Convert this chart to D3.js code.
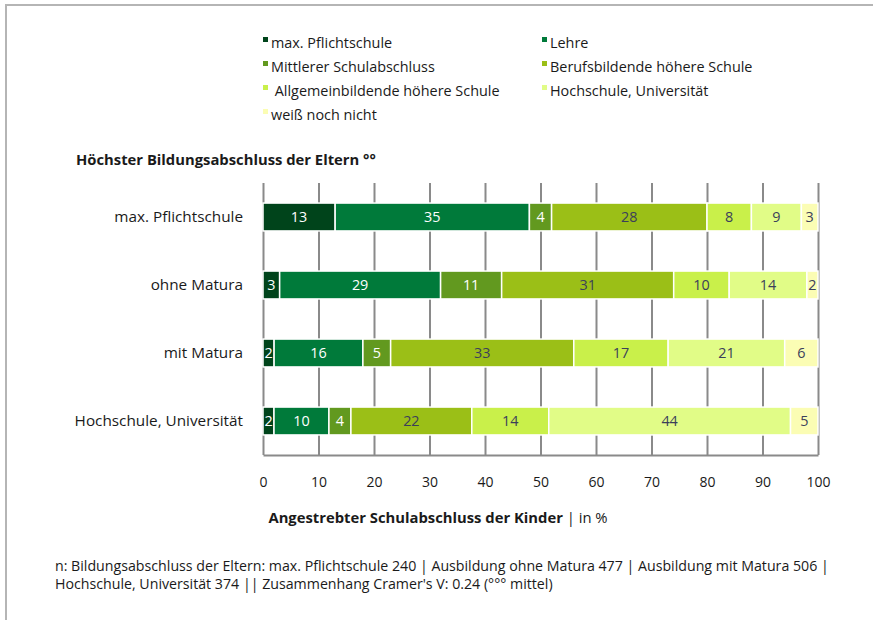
<!DOCTYPE html>
<html>
<head>
<meta charset="utf-8">
<script src="https://cdn.jsdelivr.net/npm/d3@7"></script>
<style>
  body { margin: 0; background: #fff; }
  svg text { font-family: 'Open Sans', 'Noto Sans', sans-serif; fill: #1a1a1a; }
</style>
</head>
<body>
<div id="app"></div>
<script>
const parents = ['max. Pflichtschule', 'ohne Matura', 'mit Matura', 'Hochschule, Universität'];
const goals = ['max. Pflichtschule', 'Lehre', 'Mittlerer Schulabschluss', 'Berufsbildende höhere Schule',
  ' Allgemeinbildende höhere Schule', 'Hochschule, Universität', 'weiß noch nicht'];
const colors = ['#00441b', '#007a3a', '#62991f', '#9bbf17', '#c9f04a', '#e1fc87', '#fbfdb4'];
const labelColors = ['#fff', '#fff', '#fff', '#3b3f5a', '#3b3f5a', '#3b3f5a', '#3b3f5a'];

// angestrebter Abschluss der Kinder in % je Elterngruppe
const pflicht = [13, 35, 4, 28, 8, 9, 3];
const ohneMatura = [3, 29, 11, 31, 10, 14, 2];
const mitMatura = [2, 16, 5, 33, 17, 21, 6];
const hochschule = [2, 10, 4, 22, 14, 44, 5];

const xTicks = [0, 10, 20, 30, 40, 50, 60, 70, 80, 90, 100];

const rows = [pflicht, ohneMatura, mitMatura, hochschule].map((vals, i) => {
  const r = { parent: parents[i] };
  goals.forEach((g, j) => r[g] = vals[j]);
  return r;
});

const svg = d3.select('#app').append('svg')
  .attr('width', 873)
  .attr('height', 620);

// frame
svg.append('path')
  .attr('d', 'M6,620V5H873')
  .attr('fill', 'none')
  .attr('stroke', '#b5b5b5')
  .attr('stroke-width', 2);

const x = d3.scaleLinear().domain([0, 100]).range([263, 818]);
const y = d3.scaleBand().domain(parents).range([183, 455]).paddingInner(0.59).paddingOuter(0.295);

// legend
const legend = svg.append('g');
goals.forEach((g, i) => {
  const lx = i % 2 === 0 ? 263 : 542;
  const ly = 43 + Math.floor(i / 2) * 24;
  legend.append('rect')
    .attr('x', lx).attr('y', ly - 6)
    .attr('width', 5).attr('height', 5)
    .attr('fill', colors[i]);
  legend.append('text')
    .attr('x', lx + 8).attr('y', ly + 5)
    .style('font-size', '14.4px')
    .style('white-space', 'pre')
    .attr('xml:space', 'preserve')
    .text(g);
});

svg.append('text')
  .attr('x', 76).attr('y', 165)
  .style('font-size', '14.8px')
  .style('font-weight', 'bold')
  .text('Höchster Bildungsabschluss der Eltern °°');

// grid + x axis
const gx = svg.append('g')
  .attr('transform', 'translate(0,455)')
  .call(d3.axisBottom(x).tickValues(xTicks).tickSizeInner(-(455 - 183)).tickSizeOuter(0).tickPadding(22));
gx.selectAll('line, path').attr('stroke', '#8a8a8a').attr('stroke-width', 2);
gx.selectAll('text').style('font-size', '14px').attr('fill', '#1a1a1a').attr('font-family', null);

const gy = svg.append('g')
  .attr('transform', 'translate(263,0)')
  .call(d3.axisLeft(y).tickSize(0).tickPadding(20));
gy.select('.domain').remove();
gy.selectAll('text').style('font-size', '15.3px').attr('fill', '#1a1a1a').attr('font-family', null);

// bars
const stack = d3.stack().keys(goals).offset(d3.stackOffsetExpand);
const series = stack(rows);

const layers = svg.append('g').selectAll('g')
  .data(series)
  .join('g')
  .attr('fill', (d, i) => colors[i]);

layers.selectAll('rect')
  .data(d => d)
  .join('rect')
  .attr('x', d => x(d[0] * 100))
  .attr('y', d => y(d.data.parent))
  .attr('width', d => x(d[1] * 100) - x(d[0] * 100))
  .attr('height', y.bandwidth())
  .attr('stroke', '#fff')
  .attr('stroke-width', 1.5);

layers.each(function(s, i) {
  d3.select(this).selectAll('text')
    .data(s)
    .join('text')
    .attr('x', d => x((d[0] + d[1]) / 2 * 100))
    .attr('y', d => y(d.data.parent) + y.bandwidth() / 2 + 5)
    .attr('text-anchor', 'middle')
    .style('font-size', '14.4px')
    .style('fill', labelColors[i])
    .text(d => d.data[s.key]);
});

// axis title
const at = svg.append('text')
  .attr('x', 438).attr('y', 523)
  .attr('text-anchor', 'middle')
  .style('font-size', '14.8px');
at.append('tspan').style('font-weight', 'bold').style('fill', '#1a1a1a').text('Angestrebter Schulabschluss der Kinder');
at.append('tspan').style('fill', '#1a1a1a').text(' | in %');

// footnote
const foot = ['n: Bildungsabschluss der Eltern: max. Pflichtschule 240 | Ausbildung ohne Matura 477 | Ausbildung mit Matura 506 |',
  'Hochschule, Universität 374 || Zusammenhang Cramer\'s V: 0.24 (°°° mittel)'];
svg.append('g').selectAll('text')
  .data(foot)
  .join('text')
  .attr('x', 55)
  .attr('y', (d, i) => 571 + i * 18)
  .style('font-size', '14.2px')
  .text(d => d);
</script>
</body>
</html>
